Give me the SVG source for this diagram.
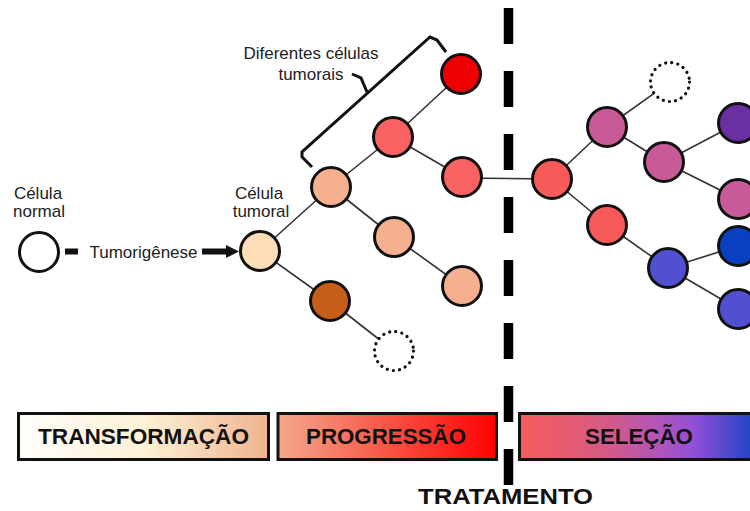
<svg xmlns="http://www.w3.org/2000/svg" width="750" height="511" viewBox="0 0 750 511">
<style>
.c{stroke:#111;stroke-width:3}
.dot{fill:none;stroke:#111;stroke-width:3.2;stroke-linecap:round;stroke-dasharray:0.1 6.1}
.t{font-family:"Liberation Sans",Arial,sans-serif;font-size:17px;fill:#222;text-anchor:middle}
.b{font-family:"Liberation Sans",Arial,sans-serif;font-size:22px;font-weight:bold;fill:#111;text-anchor:middle}
.box{stroke:#111;stroke-width:3}
</style>
<defs>
<linearGradient id="g1" x1="0" x2="1" y1="0" y2="0">
<stop offset="0" stop-color="#fffefb"/><stop offset="0.5" stop-color="#fdf1d6"/><stop offset="1" stop-color="#efb38e"/>
</linearGradient>
<linearGradient id="g2" x1="0" x2="1" y1="0" y2="0">
<stop offset="0" stop-color="#f3a98c"/><stop offset="1" stop-color="#ff0000"/>
</linearGradient>
<linearGradient id="g3" x1="0" x2="1" y1="0" y2="0">
<stop offset="0" stop-color="#f85c5c"/><stop offset="0.35" stop-color="#d75a82"/><stop offset="0.55" stop-color="#b656b2"/><stop offset="0.72" stop-color="#9450d6"/><stop offset="1" stop-color="#1243c6"/>
</linearGradient>
</defs>

<g id="connectors" stroke="#333" stroke-width="1.6" fill="none">
<line x1="260" y1="251" x2="331" y2="187"/>
<line x1="260" y1="251" x2="330" y2="301"/>
<line x1="331" y1="187" x2="393" y2="137"/>
<line x1="331" y1="187" x2="394" y2="237"/>
<line x1="393" y1="137" x2="461" y2="74"/>
<line x1="393" y1="137" x2="462" y2="177"/>
<line x1="394" y1="237" x2="462" y2="286"/>
<line x1="330" y1="301" x2="378.6" y2="339"/>
<line x1="462" y1="178" x2="552" y2="179"/>
<line x1="552" y1="179" x2="607" y2="127"/>
<line x1="552" y1="179" x2="607" y2="225"/>
<line x1="607" y1="127" x2="654" y2="93.3"/>
<line x1="607" y1="127" x2="664" y2="162"/>
<line x1="664" y1="162" x2="738" y2="123"/>
<line x1="664" y1="162" x2="738" y2="199"/>
<line x1="607" y1="225" x2="668" y2="268"/>
<line x1="668" y1="268" x2="738" y2="246"/>
<line x1="668" y1="268" x2="738" y2="309"/>
<line x1="65" y1="251.5" x2="78" y2="251.5" stroke="#111" stroke-width="6"/>
<line x1="202" y1="251.5" x2="228" y2="251.5" stroke="#111" stroke-width="6"/>
<polygon points="226,245 239,251.5 226,258" fill="#111" stroke="none"/>
<path d="M312,167 L302,157 L302,152 L430,37 L437,40 L446,52" stroke="#111" stroke-width="3" stroke-linejoin="miter"/>
<path d="M367,92 L361,78 L352,74" stroke="#111" stroke-width="3"/>
</g>

<line id="tratamento-line" x1="508.5" y1="8" x2="508.5" y2="487" stroke="#000" stroke-width="9.5" stroke-dasharray="36 27"/>

<g id="normal"><circle class="c" cx="39" cy="252" r="19.5" fill="#fff"/>
<text class="t" x="38" y="199">Célula</text><text class="t" x="39" y="217">normal</text></g>
<g id="tumorigenese"><text class="t" x="143.5" y="258">Tumorigênese</text></g>
<g id="tumoral"><circle class="c" cx="260" cy="251" r="19.5" fill="#fddcb8"/>
<text class="t" x="259" y="199">Célula</text><text class="t" x="261" y="217">tumoral</text></g>
<g id="label-diferentes"><text class="t" x="311" y="59">Diferentes células</text><text class="t" x="311" y="80">tumorais</text></g>

<g id="n1"><circle class="c" cx="331" cy="187" r="19.5" fill="#f5b090"/></g>
<g id="n2"><circle class="c" cx="393" cy="137" r="19.5" fill="#f86262"/></g>
<g id="n3"><circle class="c" cx="461" cy="74" r="19.5" fill="#ee0000"/></g>
<g id="n4"><circle class="c" cx="462" cy="177" r="19.5" fill="#f86262"/></g>
<g id="n5"><circle class="c" cx="394" cy="237" r="19.5" fill="#f5b090"/></g>
<g id="n6"><circle class="c" cx="462" cy="286" r="19.5" fill="#f5b090"/></g>
<g id="n7"><circle class="c" cx="330" cy="301" r="19.5" fill="#c65e1a"/></g>
<g id="n8"><circle class="dot" cx="394" cy="351" r="19.5"/></g>

<g id="s1"><circle class="c" cx="552" cy="179" r="19.5" fill="#f85a5a"/></g>
<g id="s2"><circle class="c" cx="607" cy="127" r="19.5" fill="#c85a98"/></g>
<g id="s3"><circle class="dot" cx="670" cy="82" r="19.5"/></g>
<g id="s4"><circle class="c" cx="664" cy="162" r="19.5" fill="#c85a98"/></g>
<g id="s5"><circle class="c" cx="738" cy="123" r="19.5" fill="#6a30a2"/></g>
<g id="s6"><circle class="c" cx="738" cy="199" r="19.5" fill="#c85a98"/></g>
<g id="s7"><circle class="c" cx="607" cy="225" r="19.5" fill="#f85a5a"/></g>
<g id="s8"><circle class="c" cx="668" cy="268" r="19.5" fill="#5050d0"/></g>
<g id="s9"><circle class="c" cx="738" cy="246" r="19.5" fill="#0840c0"/></g>
<g id="s10"><circle class="c" cx="738" cy="309" r="19.5" fill="#5050d0"/></g>

<g id="bar-transformacao"><rect class="box" x="18.5" y="413.5" width="250" height="46" fill="url(#g1)"/>
<text class="b" x="143.5" y="444" textLength="211" lengthAdjust="spacingAndGlyphs">TRANSFORMAÇÃO</text></g>
<g id="bar-progressao"><rect class="box" x="278" y="413.5" width="218.5" height="46" fill="url(#g2)"/>
<text class="b" x="386" y="444" textLength="160" lengthAdjust="spacingAndGlyphs">PROGRESSÃO</text></g>
<g id="bar-selecao"><rect class="box" x="519.5" y="413.5" width="240" height="46" fill="url(#g3)"/>
<text class="b" x="639" y="444" textLength="108" lengthAdjust="spacingAndGlyphs">SELEÇÃO</text></g>
<g id="label-tratamento"><text class="b" x="505.5" y="504" font-size="23" textLength="175" lengthAdjust="spacingAndGlyphs">TRATAMENTO</text></g>
</svg>
